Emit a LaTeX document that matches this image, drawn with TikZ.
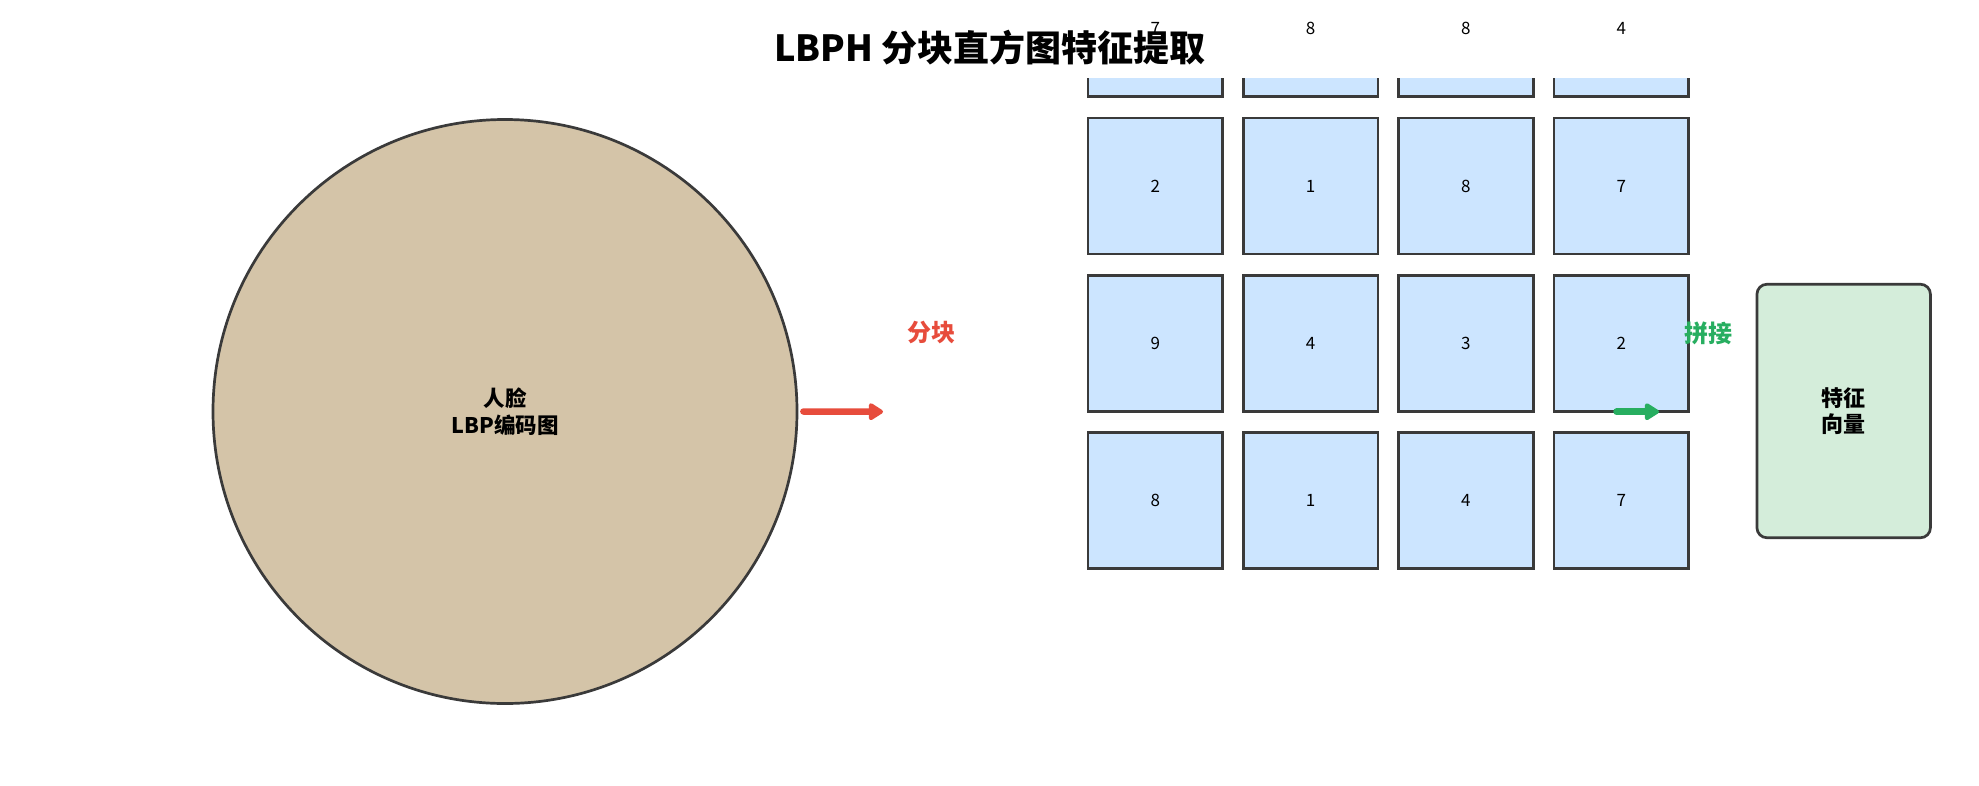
\documentclass[tikz,border=0pt]{standalone}
\usepackage{fontspec}
\setmainfont{Noto Sans CJK SC}
\usetikzlibrary{arrows.meta}
\definecolor{boxfill}{HTML}{CCE5FF}
\definecolor{boxline}{HTML}{3A3A3A}
\definecolor{circfill}{HTML}{D4C4A8}
\definecolor{featfill}{HTML}{D4EDDA}
\definecolor{redc}{HTML}{E74C3C}
\definecolor{greenc}{HTML}{27AE60}
\tikzset{
  blk/.style={draw=boxline, line width=2.7pt, fill=boxfill, minimum width=134.6pt, minimum height=136pt, inner sep=0pt},
  num/.style={font=\fontsize{17}{20}\selectfont, text=black, inner sep=0pt},
  bigcirc/.style={circle, draw=boxline, line width=2.7pt, fill=circfill, minimum size=584pt, inner sep=0pt, align=center, font=\bfseries\fontsize{21.5}{27}\selectfont},
  feat/.style={draw=boxline, line width=2.7pt, fill=featfill, rounded corners=10pt, minimum width=173.5pt, minimum height=253.5pt, inner sep=0pt, align=center, font=\bfseries\fontsize{22}{26.5}\selectfont},
  lab/.style={font=\bfseries\fontsize{24}{27}\selectfont, inner sep=0pt},
  fatarrow/.style={line width=6.5pt, line cap=round, -{Triangle[length=16pt,width=19pt,round]}},
}
\begin{document}
\begin{tikzpicture}[x=1pt,y=-1pt]
\useasboundingbox (0,0) rectangle (1979,785);
\fill[white] (0,0) rectangle (1979,785);
% grid of blocks
\foreach \r/\yy in {1/28.7,2/186,3/343.3,4/500.65}{
  \foreach \c/\xx in {1/1155.3,2/1310.6,3/1465.9,4/1621.2}{
    \node[blk] (b\r\c) at (\xx,\yy) {};
  }
}
% title band
\fill[white] (0,-80) rectangle (1979,77.5);
\node[font=\bfseries\fontsize{36}{40}\selectfont, inner sep=0pt] (title) at (990,48) {LBPH 分块直方图特征提取};
% numbers
\foreach \r/\c/\v in {1/1/7,1/2/8,1/3/8,1/4/4,2/1/2,2/2/1,2/3/8,2/4/7,3/1/9,3/2/4,3/3/3,3/4/2,4/1/8,4/2/1,4/3/4,4/4/7}{
  \node[num] (n\r\c) at (b\r\c) {\v};
}
% circle
\node[bigcirc] (circ) at (505,411.5) {人脸\\LBP编码图};
% feature vector
\node[feat] (feat) at (1843.7,411) {特征\\向量};
% arrows
\coordinate (r2) at (883,411.7);
\draw[fatarrow, redc, shorten <=5pt] (circ.east) -- (r2);
\node[lab, text=redc] (fenkuai) at (931,332) {分块};
\coordinate (g1) at (1616.5,411.7);
\coordinate (g2) at (1659,411.7);
\draw[fatarrow, greenc] (g1) -- (g2);
\node[lab, text=greenc] (pinjie) at (1708,333) {拼接};
\end{tikzpicture}
\end{document}
